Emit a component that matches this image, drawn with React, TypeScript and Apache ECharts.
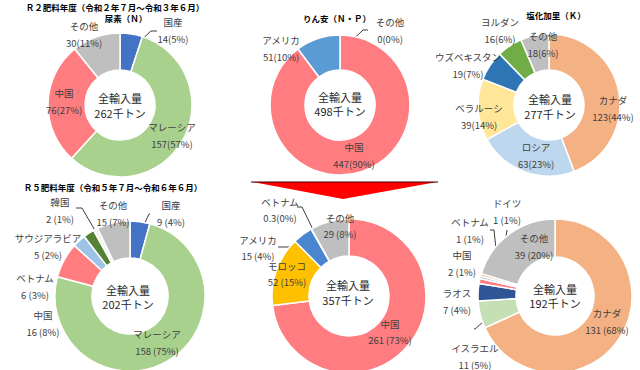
import React, { useEffect, useRef } from 'react';
import * as echarts from 'echarts';

const FONT = "'Noto Sans CJK JP', 'Noto Sans', sans-serif";

// ---- Data ----
// R2 尿素 (N)
const ureaR2Names = ['国産', 'マレーシア', '中国', 'その他'];
const ureaR2Values = [14, 157, 76, 30];
const ureaR2Pct = [5, 57, 27, 11];
const ureaR2Total = 262;

// R2 りん安 (N・P)
const mapR2Names = ['その他', '中国', 'アメリカ'];
const mapR2Values = [0, 447, 51];
const mapR2Pct = [0, 90, 10];
const mapR2Total = 498;

// R2 塩化加里 (K)
const kclR2Names = ['カナダ', 'ロシア', 'ベラルーシ', 'ウズベキスタン', 'ヨルダン', 'その他'];
const kclR2Values = [123, 63, 39, 19, 16, 18];
const kclR2Pct = [44, 23, 14, 7, 6, 6];
const kclR2Total = 277;

// R5 尿素
const ureaR5Names = ['国産', 'マレーシア', '中国', 'ベトナム', 'サウジアラビア', '韓国', 'その他'];
const ureaR5Values = [9, 158, 16, 6, 5, 2, 15];
const ureaR5Pct = [4, 75, 8, 3, 2, 1, 7];
const ureaR5Total = 202;

// R5 りん安
const mapR5Names = ['中国', 'モロッコ', 'アメリカ', 'ベトナム', 'その他'];
const mapR5Values = [261, 52, 15, 0.3, 29];
const mapR5Pct = [73, 15, 4, 0, 8];
const mapR5Total = 357;

// R5 塩化加里
const kclR5Names = ['カナダ', 'イスラエル', 'ラオス', '中国', 'ベトナム', 'ドイツ', 'その他'];
const kclR5Values = [131, 11, 7, 2, 1, 1, 39];
const kclR5Pct = [68, 5, 4, 1, 1, 1, 20];
const kclR5Total = 192;

const titleR2 = 'Ｒ２肥料年度（令和２年７月～令和３年６月）';
const titleR5 = 'Ｒ５肥料年度（令和５年７月～令和６年６月）';
const productTitles = ['尿素（Ｎ）', 'りん安（Ｎ・Ｐ）', '塩化加里（Ｋ）'];
const centerCaption = '全輸入量';
const unit = '千トン';

// ---- Styles / layout ----
const RED = '#ff7c80';
const GRAY = '#bfbfbf';

type Cfg = {
  names: string[];
  values: number[];
  pct: number[];
  total: number;
  colors: string[];
  center: [number, number];
  radius: [number, number];
  sep: string;
  lineHeight: number;
  labelPos: [number, number][];
  lines: Record<number, number[][]>;
  textPos: [number, number];
};

const charts: Cfg[] = [
  {
    names: ureaR2Names, values: ureaR2Values, pct: ureaR2Pct, total: ureaR2Total,
    colors: ['#4472c4', '#a9d18e', RED, GRAY],
    center: [120, 105], radius: [35, 72], sep: '', lineHeight: 17,
    labelPos: [[173, 30.5], [172, 135], [64, 101.5], [84, 34]],
    lines: { 0: [[157, 31], [151, 31], [128, 52]] },
    textPos: [120, 105.5],
  },
  {
    names: mapR2Names, values: mapR2Values, pct: mapR2Pct, total: mapR2Total,
    colors: ['#a5a5a5', RED, '#5b9bd5'],
    center: [340, 105], radius: [35, 70], sep: '', lineHeight: 17,
    labelPos: [[390, 30.5], [354, 155.5], [281, 48.5]],
    lines: { 0: [[368, 30], [363, 30], [339, 53]] },
    textPos: [340, 104],
  },
  {
    names: kclR2Names, values: kclR2Values, pct: kclR2Pct, total: kclR2Total,
    colors: ['#f4b183', '#bdd7ee', '#ffe699', '#2e75b6', '#70ad47', GRAY],
    center: [549, 105], radius: [35, 71], sep: '', lineHeight: 17,
    labelPos: [[613, 108.5], [536, 155.5], [479, 116], [468, 65.5], [500, 30.5], [543, 44.5]],
    lines: {},
    textPos: [550, 106.5],
  },
  {
    names: ureaR5Names, values: ureaR5Values, pct: ureaR5Pct, total: ureaR5Total,
    colors: ['#4472c4', '#a9d18e', RED, '#9dc3e6', '#548235', '#f2f2f2', GRAY],
    center: [130, 296], radius: [38, 75], sep: ' ', lineHeight: 17,
    labelPos: [[171, 213], [157, 342], [43, 323.5], [35, 286], [48, 246.5], [60, 210], [113, 213]],
    lines: {
      0: [[150, 214], [149, 214], [137, 239]],
      2: [[75, 323], [80, 323], [80, 268]],
      3: [[58, 287], [62, 287], [90, 250]],
      4: [[80, 247], [86, 247], [99, 247]],
      5: [[76, 208], [82, 208], [104, 246]],
    },
    textPos: [128, 297],
  },
  {
    names: mapR5Names, values: mapR5Values, pct: mapR5Pct, total: mapR5Total,
    colors: [RED, '#ffc000', '#4a86d0', '#a5a5a5', GRAY],
    center: [349, 296], radius: [40, 77], sep: ' ', lineHeight: 16,
    labelPos: [[390, 331.5], [287, 273.5], [258, 247.5], [280, 209.5], [340, 225.5]],
    lines: {
      2: [[278, 247], [296, 247], [313, 247]],
      3: [[297, 207], [302, 207], [322, 248]],
    },
    textPos: [348, 292.5],
  },
  {
    names: kclR5Names, values: kclR5Values, pct: kclR5Pct, total: kclR5Total,
    colors: ['#f4b183', '#c5e0b4', '#2f5597', RED, '#9dc3e6', '#f4b183', GRAY],
    center: [555, 296], radius: [39, 77], sep: ' ', lineHeight: 17,
    labelPos: [[607, 321], [475, 356], [457, 301], [462, 263], [470, 230], [507, 211.5], [534, 246.5]],
    lines: {
      1: [[474, 329], [475, 329], [500, 307]],
      4: [[490, 230], [494, 230], [499, 278]],
      5: [[507, 230], [507, 230], [500, 278]],
    },
    textPos: [555, 296],
  },
];

function makeSeries(cfg: Cfg) {
  return {
    type: 'pie',
    center: cfg.center,
    radius: cfg.radius,
    startAngle: 90,
    clockwise: true,
    avoidLabelOverlap: false,
    silent: true,
    itemStyle: { borderColor: '#ffffff', borderWidth: 1.5 },
    label: {
      show: true,
      position: 'outside',
      fontFamily: FONT,
      fontSize: 9.5,
      lineHeight: cfg.lineHeight,
      color: '#404040',
      align: 'center',
      formatter: (p: any) => {
        const i = p.dataIndex;
        const v = cfg.values[i];
        const sep = v < 1 && v > 0 ? '' : cfg.sep;
        return `${cfg.names[i]}\n${v}${sep}(${cfg.pct[i]}%)`;
      },
    },
    labelLine: {
      show: true,
      length: 4,
      length2: 4,
      lineStyle: { color: '#262626', width: 0.9 },
    },
    labelLayout: (p: any) => {
      const pos = cfg.labelPos[p.dataIndex];
      const line = cfg.lines[p.dataIndex];
      const r: any = { x: pos[0], y: pos[1], align: 'center', verticalAlign: 'middle' };
      if (line) r.labelLinePoints = line;
      return r;
    },
    data: cfg.names.map((n, i) => ({
      name: n,
      value: cfg.values[i],
      itemStyle: { color: cfg.colors[i] },
      labelLine: { show: !!cfg.lines[i] },
    })),
  };
}

export default function App() {
  const ref = useRef<HTMLDivElement>(null);
  useEffect(() => {
    if (!ref.current) return;
    const chart = echarts.init(ref.current, null, { renderer: 'svg' });
    const graphics: any[] = [];
    const titleStyle = { fontFamily: FONT, fontSize: 8.5, fontWeight: 'bold', fill: '#000000', align: 'center', verticalAlign: 'middle' };
    graphics.push({ type: 'text', x: 115, y: 7, style: { ...titleStyle, text: titleR2 } });
    graphics.push({ type: 'text', x: 113, y: 187, style: { ...titleStyle, text: titleR5 } });
    const ptPos = [[126, 18], [337, 18], [556, 15]];
    productTitles.forEach((t, i) => {
      graphics.push({ type: 'text', x: ptPos[i][0], y: ptPos[i][1], style: { ...titleStyle, text: t } });
    });
    charts.forEach((c) => {
      graphics.push({
        type: 'text', x: c.textPos[0], y: c.textPos[1],
        style: {
          text: `${centerCaption}\n${c.total}${unit}`,
          fontFamily: FONT, fontSize: 11, lineHeight: 14.5, fill: '#262626',
          align: 'center', verticalAlign: 'middle',
        },
      });
    });
    // red arrow
    graphics.push({
      type: 'polygon',
      shape: { points: [[252, 182], [437, 182], [343, 199]] },
      style: { fill: '#ff0000', stroke: 'none' },
    });
    graphics.push({
      type: 'line',
      shape: { x1: 251, y1: 182, x2: 438, y2: 182 },
      style: { stroke: '#3a0000', lineWidth: 1 },
    });

    chart.setOption({
      animation: false,
      backgroundColor: '#ffffff',
      series: charts.map(makeSeries),
      graphic: { elements: graphics },
    });
    return () => chart.dispose();
  }, []);
  return (
    <div
      ref={ref}
      style={{ position: 'fixed', left: 0, top: 0, width: 640, height: 370, background: '#fff' }}
    />
  );
}
